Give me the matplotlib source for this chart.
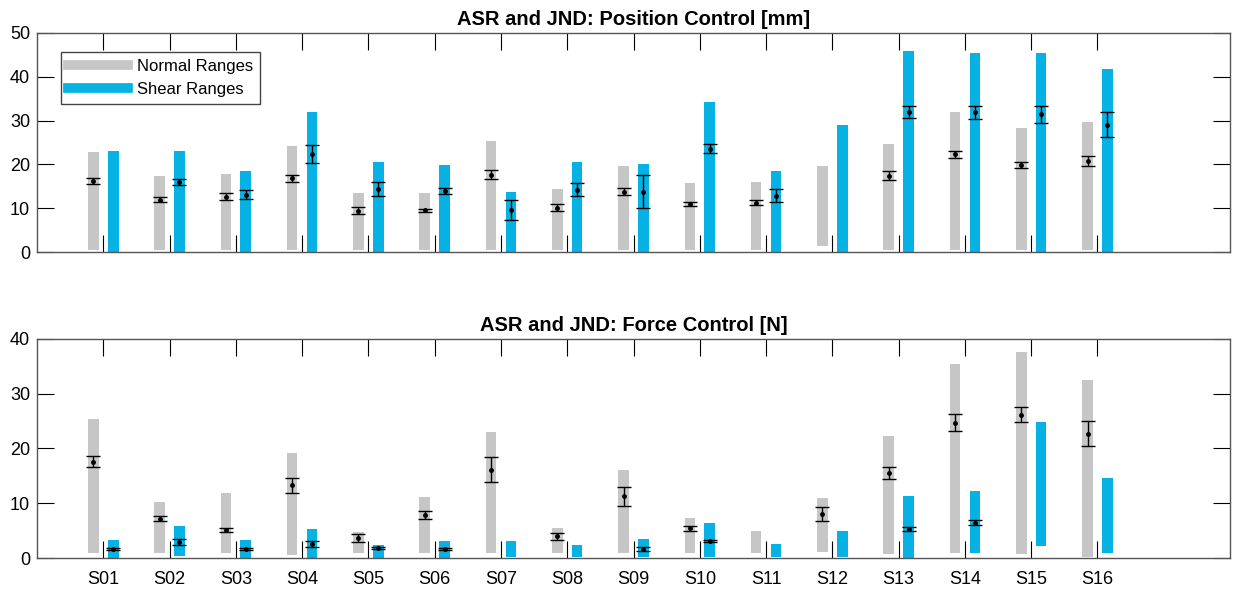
import numpy as np
import matplotlib
matplotlib.use('Agg')
import matplotlib.pyplot as plt
from matplotlib.lines import Line2D

nan = np.nan

subjects = ['S%02d' % i for i in range(1, 17)]

# position control [mm] -- range bars (low/high) and JND mean +- err
pos_normal_lo = [0.5, 0.5, 0.5, 0.5, 0.5, 0.5, 0.5, 0.5, 0.5, 0.5, 0.5, 1.4, 0.5, 0.5, 0.5, 0.5]
pos_normal_hi = [22.9, 17.3, 17.9, 24.3, 13.4, 13.4, 25.3, 14.5, 19.7, 15.7, 16.1, 19.7, 24.7, 32.0, 28.4, 29.7]
pos_shear_lo = [0, 0, 0, 0, 0, 0, 0, 0, 0, 0, 0, 0, 0, 0, 0, 0]
pos_shear_hi = [23.0, 23.0, 18.6, 32.0, 20.6, 19.9, 13.7, 20.5, 20.0, 34.2, 18.6, 28.9, 45.9, 45.5, 45.5, 41.7]
pos_normal_jnd = [16.2, 12.0, 12.6, 16.9, 9.4, 9.5, 17.7, 10.1, 13.8, 11.0, 11.3, nan, 17.4, 22.3, 19.8, 20.8]
pos_normal_err = [0.7, 0.5, 0.8, 0.8, 0.8, 0.4, 1.0, 0.8, 0.8, 0.45, 0.6, nan, 1.0, 0.8, 0.7, 1.05]
pos_shear_jnd = [nan, 15.9, 13.1, 22.4, 14.4, 13.9, 9.6, 14.2, 13.8, 23.6, 12.9, nan, 32.0, 31.9, 31.4, 29.1]
pos_shear_err = [nan, 0.7, 1.0, 2.0, 1.5, 0.7, 2.2, 1.5, 3.8, 1.0, 1.5, nan, 1.4, 1.5, 1.9, 2.9]

# force control [N]
frc_normal_lo = [0.9, 0.9, 1.0, 0.5, 0.9, 0.9, 0.9, 1.0, 0.9, 1.0, 0.9, 1.1, 0.8, 0.9, 0.8, 0.25]
frc_normal_hi = [25.3, 10.3, 11.9, 19.1, 4.8, 11.1, 23.0, 5.4, 16.1, 7.3, 5.0, 11.0, 22.3, 35.5, 37.7, 32.5]
frc_shear_lo = [0, 0.3, 0, 0, 0, 0, 0.25, 0.25, 0.25, 0.25, 0.1, 0.25, 0, 0.9, 2.2, 0.9]
frc_shear_hi = [3.2, 5.9, 3.2, 5.3, 2.3, 3.1, 3.1, 2.3, 3.5, 6.4, 2.5, 4.9, 11.3, 12.3, 24.9, 14.6]
frc_normal_jnd = [17.6, 7.2, 5.1, 13.3, 3.7, 7.9, 16.1, 4.0, 11.3, 5.4, nan, 8.0, 15.5, 24.7, 26.2, 22.7]
frc_normal_err = [1.0, 0.5, 0.35, 1.35, 0.7, 0.75, 2.3, 0.65, 1.75, 0.5, nan, 1.25, 1.05, 1.6, 1.35, 2.3]
frc_shear_jnd = [1.65, 2.9, 1.7, 2.6, 1.9, 1.65, nan, nan, 1.7, 3.1, nan, nan, 5.3, 6.4, nan, nan]
frc_shear_err = [0.2, 0.5, 0.2, 0.5, 0.2, 0.2, nan, nan, 0.35, 0.2, nan, nan, 0.45, 0.45, nan, nan]

gray = '#c6c6c6'
blue = '#06b2e3'
off = 0.15
w = 0.16

plt.rcParams['font.family'] = ['Liberation Sans', 'DejaVu Sans']

fig = plt.figure(figsize=(12.33, 5.89), dpi=100)
ax1 = fig.add_axes([0.030, 0.572, 0.9676, 0.372])
ax2 = fig.add_axes([0.030, 0.0526, 0.9676, 0.372])

x = np.arange(1, 17)


def draw(ax, n_lo, n_hi, s_lo, s_hi, n_jnd, n_err, s_jnd, s_err, ymax, title):
    n_lo, n_hi = np.array(n_lo), np.array(n_hi)
    s_lo, s_hi = np.array(s_lo), np.array(s_hi)
    ax.bar(x - off, n_hi - n_lo, bottom=n_lo, width=w, color=gray, label='Normal Ranges', zorder=2)
    ax.bar(x + off, s_hi - s_lo, bottom=s_lo, width=w, color=blue, label='Shear Ranges', zorder=2)
    for dx, m, e in [(-off, n_jnd, n_err), (off, s_jnd, s_err)]:
        m, e = np.array(m), np.array(e)
        ok = ~np.isnan(m)
        ax.errorbar(x[ok] + dx, m[ok], yerr=e[ok], fmt='.', color='black', ms=5,
                    elinewidth=1, capsize=5, capthick=1, zorder=3)
    ax.set_xlim(0, 18)
    ax.set_ylim(0, ymax)
    ax.set_xticks(x)
    ax.set_title(title, fontsize=14.5, fontweight='bold', pad=6)
    ax.tick_params(direction='in', length=12, width=0.8, top=True, right=True,
                   labelsize=13, pad=5)
    ax.tick_params(axis='x', pad=9)
    for s in ax.spines.values():
        s.set_color('#555555')
        s.set_linewidth(1)


draw(ax1, pos_normal_lo, pos_normal_hi, pos_shear_lo, pos_shear_hi,
     pos_normal_jnd, pos_normal_err, pos_shear_jnd, pos_shear_err, 50,
     'ASR and JND: Position Control [mm]')
ax1.set_yticks([0, 10, 20, 30, 40, 50])
ax1.set_xticklabels([])

draw(ax2, frc_normal_lo, frc_normal_hi, frc_shear_lo, frc_shear_hi,
     frc_normal_jnd, frc_normal_err, frc_shear_jnd, frc_shear_err, 40,
     'ASR and JND: Force Control [N]')
ax2.set_yticks([0, 10, 20, 30, 40])
ax2.set_xticklabels(subjects)

# legend with thick line handles like the original
handles = [Line2D([], [], color=gray, lw=7), Line2D([], [], color=blue, lw=7)]
leg = ax1.legend(handles, ['Normal Ranges', 'Shear Ranges'], loc='upper left',
                 bbox_to_anchor=(0.02, 0.915), borderaxespad=0, fontsize=12,
                 handlelength=3.6, fancybox=False, framealpha=1,
                 edgecolor='#444444', labelspacing=0.45, borderpad=0.45,
                 handletextpad=0.5)
leg.get_frame().set_linewidth(1)

fig.savefig('out.png', dpi=100)
